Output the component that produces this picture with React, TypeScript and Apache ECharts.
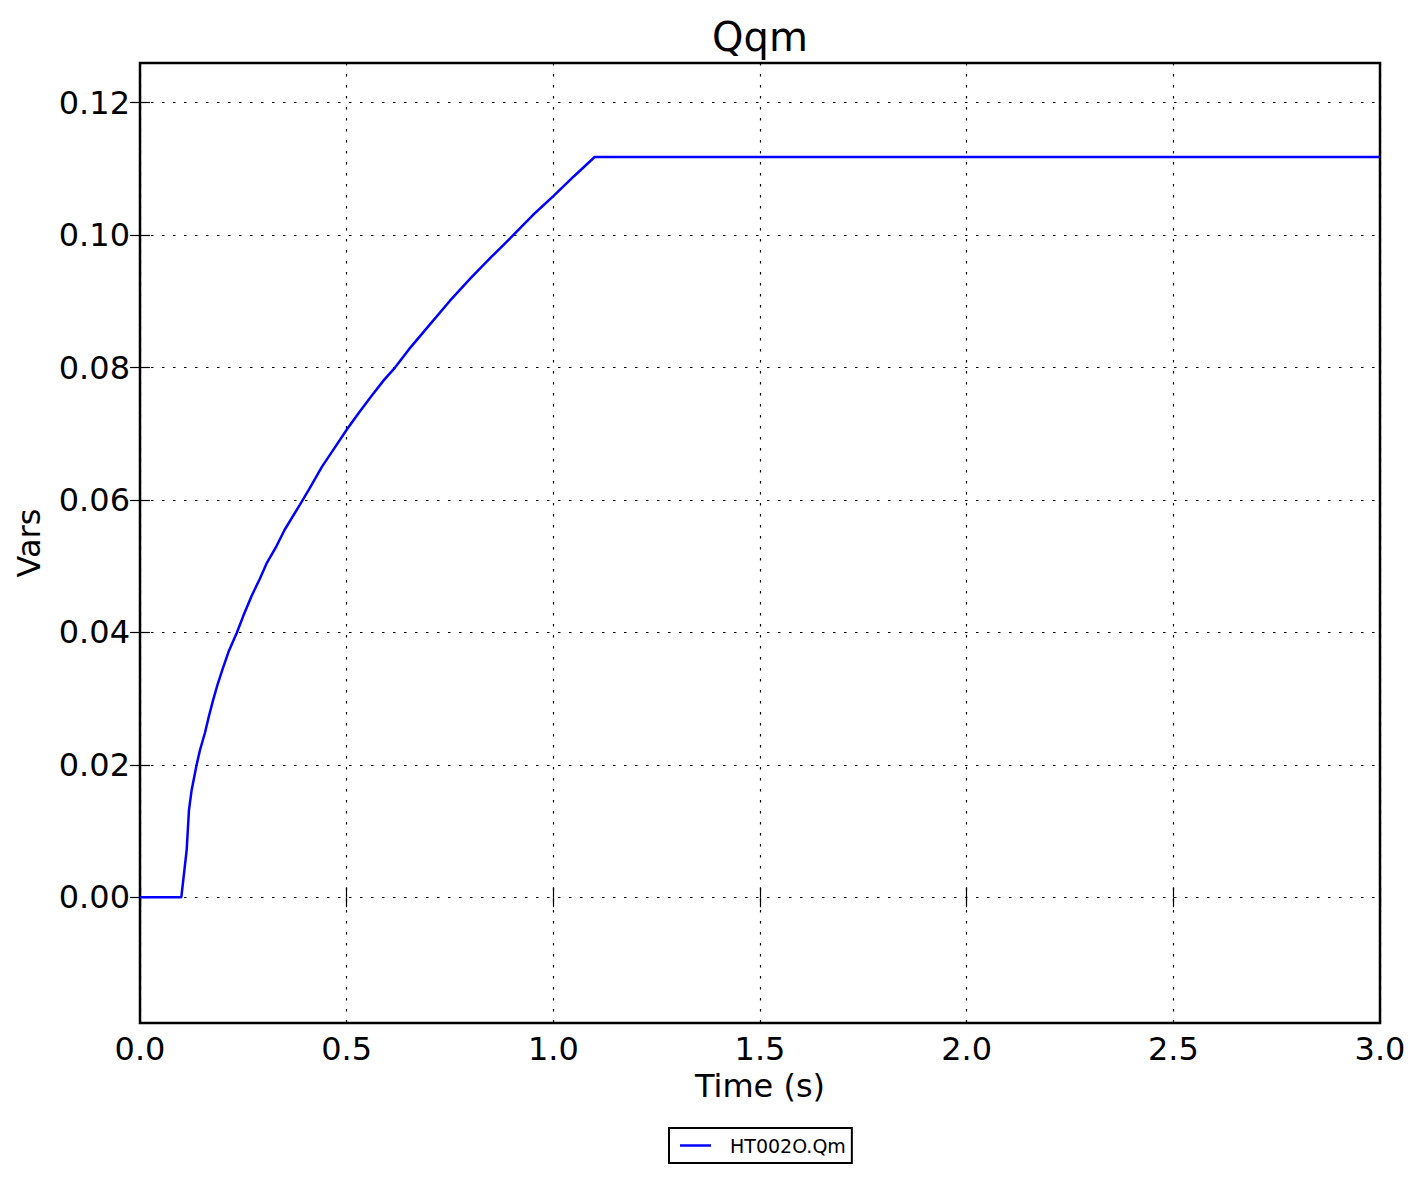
import React, { useEffect, useRef } from "react";
import * as echarts from "echarts";

const times = [0, 0.1, 0.113, 0.1185, 0.125, 0.137, 0.145, 0.157, 0.167, 0.177, 0.188, 0.2, 0.215, 0.234, 0.25, 0.27, 0.29, 0.307, 0.33, 0.35, 0.387, 0.41, 0.44, 0.47, 0.5, 0.53, 0.56, 0.59, 0.617, 0.65, 0.7, 0.75, 0.8, 0.85, 0.9, 0.95, 1.0, 1.05, 1.1, 3.0];
const qmValues = [0, 0, 0.0072, 0.0132, 0.0162, 0.02, 0.0222, 0.0248, 0.0274, 0.0298, 0.0322, 0.0345, 0.0372, 0.0399, 0.0425, 0.0455, 0.0481, 0.0505, 0.053, 0.0555, 0.0593, 0.0617, 0.065, 0.0678, 0.0706, 0.0732, 0.0757, 0.0781, 0.08, 0.0827, 0.0864, 0.0901, 0.0935, 0.0967, 0.0998, 0.103, 0.1059, 0.1089, 0.1118, 0.1118];
const yTicks = [0, 0.02, 0.04, 0.06, 0.08, 0.1, 0.12];
const seriesName = "HT002O.Qm";

const FONT = "DejaVu Sans";

export default function App() {
  const ref = useRef<HTMLDivElement>(null);
  useEffect(() => {
    if (!ref.current) return;
    const chart = echarts.init(ref.current, null, { renderer: "svg" });
    const data = times.map((t, i) => [t, qmValues[i]]);
    const tick = { show: true, inside: true, length: 10, lineStyle: { color: "#000", width: 1.2 } };
    const grid = { show: true, lineStyle: { color: "#000", width: 1.2, type: [2.5, 8.5] as any } };
    chart.setOption({
      animation: false,
      backgroundColor: "#fff",
      title: {
        text: "Qqm",
        left: 712,
        top: 17,
        padding: 0,
        textStyle: { fontFamily: FONT, fontSize: 40, fontWeight: "normal", color: "#000" },
      },
      legend: {
        left: 669,
        top: 1128,
        data: [seriesName],
        icon: "rect",
        borderColor: "#000",
        borderWidth: 2,
        borderRadius: 0,
        padding: [8, 6, 8, 11],
        itemWidth: 31,
        itemHeight: 2.5,
        textStyle: { fontFamily: FONT, fontSize: 19, color: "#000", padding: [0, 0, 0, 14] },
      },
      grid: {
        left: 140,
        right: 44,
        top: 63,
        bottom: 159,
        show: true,
        borderColor: "#000",
        borderWidth: 2.5,
        backgroundColor: "transparent",
        containLabel: false,
        outerBoundsMode: "none",
      },
      xAxis: [
        {
          type: "value",
          min: 0,
          max: 3,
          interval: 0.5,
          name: "Time (s)",
          nameLocation: "middle",
          nameGap: 46,
          nameTextStyle: { fontFamily: FONT, fontSize: 32, color: "#000" },
          axisLine: { show: false },
          axisTick: tick,
          splitLine: grid,
          axisLabel: {
            fontFamily: FONT,
            fontSize: 32,
            color: "#000",
            margin: 10,
            formatter: (v: number) => v.toFixed(1),
          },
        },
        {
          type: "value",
          position: "top",
          min: 0,
          max: 3,
          interval: 0.5,
          axisLine: { show: false },
          axisTick: tick,
          splitLine: { show: false },
          axisLabel: { show: false },
        },
      ],
      yAxis: [
        {
          type: "value",
          min: -0.019,
          max: 0.126,
          name: "Vars",
          nameLocation: "middle",
          nameGap: 95,
          nameTextStyle: { fontFamily: FONT, fontSize: 32, color: "#000" },
          axisLine: { show: false },
          axisTick: { ...tick, customValues: yTicks },
          splitLine: grid,
          axisLabel: {
            customValues: yTicks,
            fontFamily: FONT,
            fontSize: 32,
            color: "#000",
            margin: 10,
            formatter: (v: number) => v.toFixed(2),
          },
        },
        {
          type: "value",
          position: "right",
          min: -0.019,
          max: 0.126,
          axisLine: { show: false },
          axisTick: { ...tick, customValues: yTicks },
          splitLine: { show: false },
          axisLabel: { show: false, customValues: yTicks },
        },
      ],
      series: [
        {
          name: seriesName,
          type: "line",
          xAxisIndex: 0,
          yAxisIndex: 0,
          data,
          symbol: "none",
          showSymbol: false,
          lineStyle: { color: "#0000ff", width: 2.5 },
          itemStyle: { color: "#0000ff" },
        },
      ],
    });
    return () => chart.dispose();
  }, []);
  return (
    <div
      ref={ref}
      style={{ position: "absolute", left: 0, top: 0, width: 1424, height: 1182 }}
    />
  );
}
